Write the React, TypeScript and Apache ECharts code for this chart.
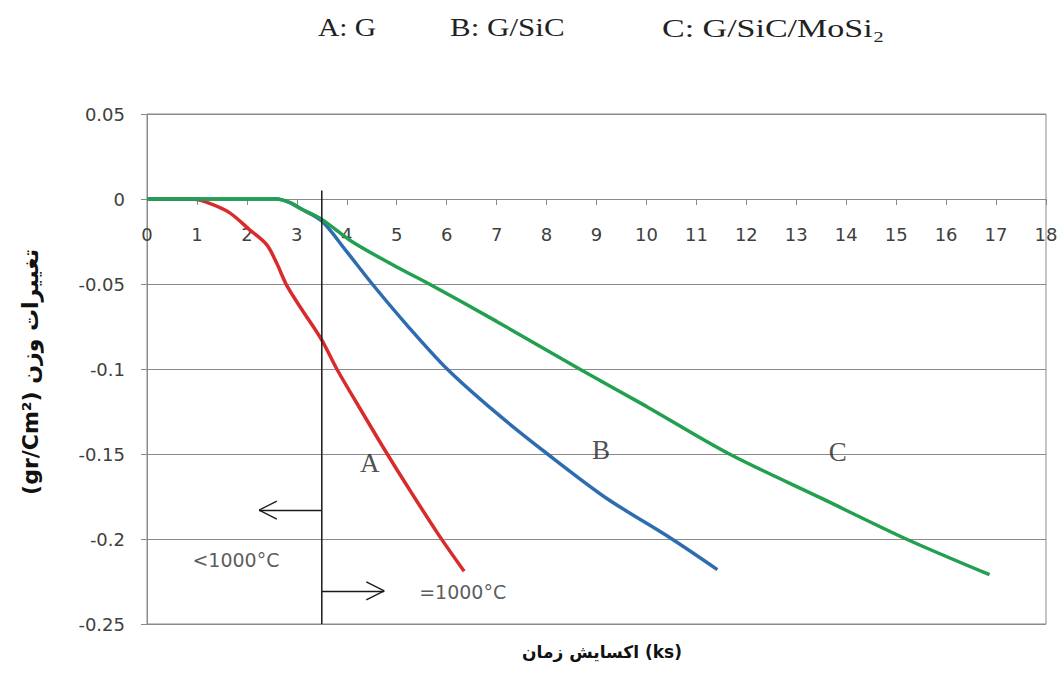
import React, { useEffect, useRef } from "react";
import * as echarts from "echarts";

// Curve A: G
const seriesA: [number, number][] = [
  [0, 0], [0.9, 0], [1.2, -0.002], [1.65, -0.008], [2.05, -0.018], [2.4, -0.027],
  [2.6, -0.038], [2.8, -0.051], [3.1, -0.065], [3.5, -0.083], [3.8, -0.1],
  [4.3, -0.125], [4.81, -0.15], [5.3, -0.173], [5.85, -0.198], [6.35, -0.219],
];
// Curve B: G/SiC
const seriesB: [number, number][] = [
  [0, 0], [2.6, 0], [2.85, -0.002], [3.1, -0.006], [3.5, -0.013], [4, -0.031],
  [4.51, -0.05], [5.2, -0.074], [6.01, -0.1], [7, -0.126], [8.02, -0.15],
  [9.2, -0.176], [10.51, -0.2], [11.42, -0.218],
];
// Curve C: G/SiC/MoSi2
const seriesC: [number, number][] = [
  [0, 0], [1, 0], [2, 0], [2.6, 0], [2.85, -0.002], [3.1, -0.006], [3.5, -0.012],
  [4.1, -0.025], [5, -0.04], [5.65, -0.05], [7, -0.072], [8.66, -0.1],
  [10, -0.122], [11.66, -0.15], [13.5, -0.176], [15.2, -0.2], [16.87, -0.221],
];

// Vertical divider at the temperature change
const dividerLine: [number, number][] = [[3.5, 0.005], [3.5, -0.25]];

// Arrow segments (shaft + chevron arms)
const arrowSegments: [[number, number], [number, number]][] = [
  [[3.5, -0.183], [2.245, -0.183]],
  [[2.245, -0.183], [2.6, -0.1777]],
  [[2.245, -0.183], [2.6, -0.1883]],
  [[3.5, -0.2305], [4.75, -0.2305]],
  [[4.75, -0.2305], [4.39, -0.2252]],
  [[4.75, -0.2305], [4.39, -0.2358]],
];

// Curve letters
const curveLetters = [
  { name: "A", value: [4.46, -0.1555] },
  { name: "B", value: [9.09, -0.1476] },
  { name: "C", value: [13.83, -0.1486] },
];
// Temperature notes
const tempNotes = [
  { name: "<1000°C", value: [1.78, -0.2124] },
  { name: "=1000°C", value: [6.32, -0.231] },
];

const legendTexts = ["A: G", "B: G/SiC", "C: G/SiC/MoSi₂"];
const yTitle = "(gr/Cm²) تغییرات وزن";
const xTitle = "اکسایش زمان (ks)";

const X_MIN = 0, X_MAX = 18, X_STEP = 1;
const Y_MIN = -0.25, Y_MAX = 0.05, Y_STEP = 0.05;

export default function App() {
  const ref = useRef<HTMLDivElement>(null);
  useEffect(() => {
    const chart = echarts.init(ref.current!, null, { renderer: "svg" });
    const gray = "#8a8a8a";
    const labelFont = "DejaVu Sans";
    const gridTop = 114, gridBottom = 51, H = 675;
    const plotH = H - gridTop - gridBottom;
    // x axis crosses at y = 0: shift it up from the bottom of the grid
    const xAxisOffset = -plotH * (0 - Y_MIN) / (Y_MAX - Y_MIN);
    const transparent = "rgba(0,0,0,0)";
    chart.setOption({
      animation: false,
      backgroundColor: "#ffffff",
      grid: {
        left: 147, right: 18, top: gridTop, bottom: gridBottom,
        show: true, borderColor: gray, borderWidth: 1, backgroundColor: "transparent",
      },
      xAxis: {
        type: "value", min: X_MIN, max: X_MAX, interval: X_STEP,
        position: "bottom", offset: xAxisOffset,
        axisLine: { show: true, onZero: false, lineStyle: { color: gray, width: 1 } },
        axisTick: { show: true, inside: false, length: 6, lineStyle: { color: gray } },
        axisLabel: {
          margin: 26, fontFamily: labelFont, fontSize: 18, color: "#404040",
          showMinLabel: true, showMaxLabel: true,
        },
        splitLine: { show: false },
      },
      yAxis: {
        type: "value", min: Y_MIN, max: Y_MAX, interval: Y_STEP,
        axisLine: { show: true, onZero: false, lineStyle: { color: gray, width: 1 } },
        axisTick: { show: true, inside: false, length: 6, lineStyle: { color: gray } },
        axisLabel: {
          margin: 22, fontFamily: labelFont, fontSize: 18, color: "#404040",
          formatter: (v: number) => String(parseFloat(v.toFixed(2))),
        },
        splitLine: { show: true, lineStyle: { color: gray, width: 1 } },
      },
      series: [
        {
          type: "line", name: "A", data: seriesA, smooth: 0.3, symbol: "none",
          lineStyle: { color: "#d92a2c", width: 3.5 }, z: 3,
        },
        {
          type: "line", name: "B", data: seriesB, smooth: 0.3, symbol: "none",
          lineStyle: { color: "#2e6cb0", width: 3.5 }, z: 4,
        },
        {
          type: "line", name: "C", data: seriesC, smooth: 0.3, symbol: "none",
          lineStyle: { color: "#22a04f", width: 3.5 }, z: 5,
        },
        {
          type: "line", name: "divider", data: dividerLine, symbol: "none",
          lineStyle: { color: "#1a1a1a", width: 1.5 }, z: 6, silent: true,
          markLine: {
            silent: true, symbol: "none", animation: false,
            label: { show: false },
            lineStyle: { color: "#1a1a1a", width: 1.3, type: "solid" },
            data: arrowSegments.map(([a, b]) => [{ coord: a }, { coord: b }]),
          },
        },
        {
          type: "scatter", name: "letters", data: curveLetters, symbolSize: 1,
          itemStyle: { color: transparent }, silent: true, z: 7,
          label: {
            show: true, position: "inside", formatter: (p: any) => p.name,
            fontFamily: "Liberation Serif", fontSize: 27, color: "#222",
          },
        },
        {
          type: "scatter", name: "notes", data: tempNotes, symbolSize: 1,
          itemStyle: { color: transparent }, silent: true, z: 7,
          label: {
            show: true, position: "inside", formatter: (p: any) => p.name,
            fontFamily: labelFont, fontSize: 19, color: "#303030",
          },
        },
      ],
      graphic: [
        {
          type: "text", x: 318, y: 28, scaleX: 1.18,
          style: { text: legendTexts[0], font: '25px "Liberation Serif"', fill: "#222", align: "left", verticalAlign: "middle", textAlign: "left", textVerticalAlign: "middle" },
        },
        {
          type: "text", x: 450, y: 28, scaleX: 1.24,
          style: { text: legendTexts[1], font: '25px "Liberation Serif"', fill: "#222", align: "left", verticalAlign: "middle", textAlign: "left", textVerticalAlign: "middle" },
        },
        {
          type: "text", x: 662, y: 28, scaleX: 1.36,
          style: { text: legendTexts[2], font: '25px "Liberation Serif"', fill: "#222", align: "left", verticalAlign: "middle", textAlign: "left", textVerticalAlign: "middle" },
        },
        {
          type: "text", x: 30, y: 372, rotation: Math.PI / 2,
          style: { text: yTitle, font: 'bold 22px "DejaVu Sans"', fill: "#111", align: "center", verticalAlign: "middle", textAlign: "center", textVerticalAlign: "middle" },
        },
        {
          type: "text", x: 602, y: 652,
          style: { text: xTitle, font: 'bold 17px "DejaVu Sans"', fill: "#111", align: "center", verticalAlign: "middle", textAlign: "center", textVerticalAlign: "middle" },
        },
      ],
    });
    return () => chart.dispose();
  }, []);
  return (
    <div
      ref={ref}
      style={{ position: "fixed", left: 0, top: 0, width: 1064, height: 675, background: "#fff" }}
    />
  );
}
